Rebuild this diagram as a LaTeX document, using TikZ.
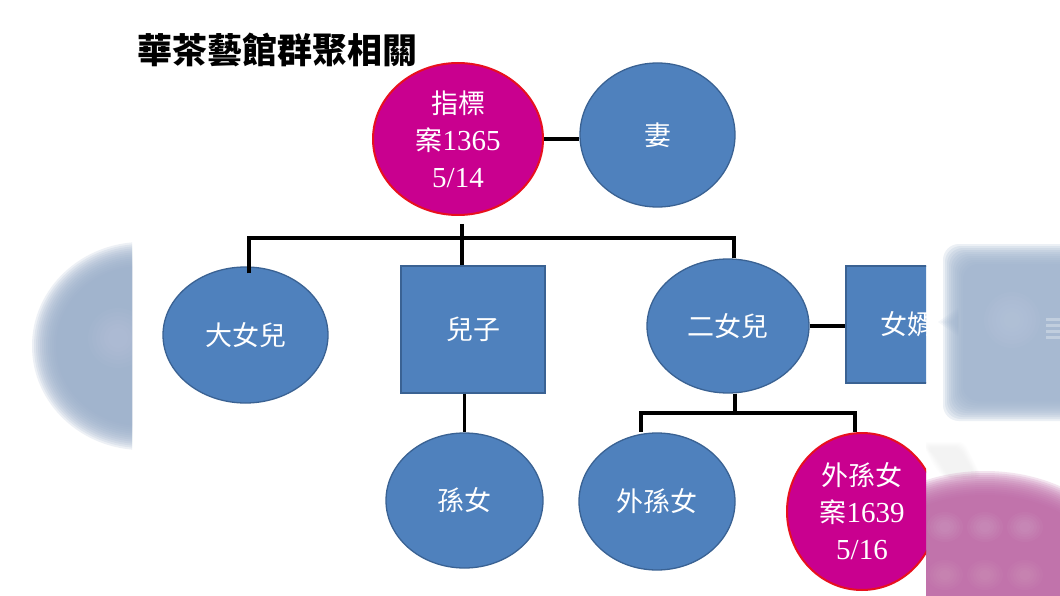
\documentclass[tikz,border=0pt]{standalone}
\usepackage{fontspec}
\setmainfont{Liberation Serif}
\newfontfamily\cjk{Noto Sans CJK TC}
\usetikzlibrary{shapes.geometric}
\definecolor{nodeblue}{HTML}{4F81BD}
\definecolor{nodeblueedge}{HTML}{3A6293}
\definecolor{nodemag}{HTML}{C9008F}
\definecolor{nodered}{HTML}{E8101E}
\definecolor{blurblue}{HTML}{9CB0CB}
\definecolor{blurblue2}{HTML}{A0B4CE}
\definecolor{blurmag}{HTML}{BE6AA7}
\tikzset{
  person/.style={ellipse, inner sep=0pt, fill=nodeblue, draw=nodeblueedge, line width=1.3pt, text=white, font=\cjk\fontsize{27}{36}\selectfont, align=center},
  male/.style={rectangle, inner sep=0pt, fill=nodeblue, draw=nodeblueedge, line width=1.3pt, text=white, font=\cjk\fontsize{27}{36}\selectfont, align=center},
  casenode/.style={ellipse, inner sep=0pt, fill=nodemag, draw=nodered, line width=2pt, text=white, font=\fontsize{29}{37}\selectfont, align=center},
  link/.style={line width=3.6pt, black},
  titletext/.style={font=\cjk\bfseries\fontsize{35}{40}\selectfont, anchor=west, inner sep=0pt}
}
\begin{document}
\begin{tikzpicture}[x=1pt,y=-1pt]
\useasboundingbox (0,0) rectangle (1060,596);
\fill[white] (0,0) rectangle (1060,596);

% ---------- blurred background pieces ----------
\begin{scope}
\clip (0,0) rectangle (132,596);
\foreach \k in {0,...,12}
  \fill[blurblue, opacity=0.18] (142,346) ellipse [x radius={86pt+2pt*\k}, y radius={80pt+2pt*\k}];
\foreach \k in {0,...,5}
  \fill[white, opacity=0.025] (118,338) ellipse [x radius={10pt+4pt*\k}, y radius={10pt+4pt*\k}];
\end{scope}

\begin{scope}
\clip (926,0) rectangle (1060,596);
% light blue square
\foreach \k in {0,...,10}
  \fill[blurblue2, opacity=0.2, rounded corners=16pt] ({963-2*\k},{264-2*\k}) rectangle (1120,{401+2*\k});
\foreach \k in {0,...,4}
  \fill[blurblue2, opacity=0.1] ({950-3*\k},322) -- (958,{316-2*\k}) -- (958,{328+2*\k}) -- cycle;
\foreach \k in {0,...,5}
  \fill[white, opacity=0.025] (1012,320) ellipse [x radius={8pt+4pt*\k}, y radius={8pt+4pt*\k}];
\foreach \y in {318,324,330,336}
  \fill[white, opacity=0.3] (1046,\y) rectangle (1060,{\y+2.5});
% grey streak
\foreach \k in {0,...,6}
  \fill[gray!15, opacity=0.1, rounded corners=6pt] ({928-\k},{448-\k}) -- ({958+\k},{448-\k}) -- ({976+\k},{478}) -- ({950-\k},478) -- ({940-\k},{460+\k}) -- cycle;
% magenta blob
\foreach \k in {0,...,12}
  \fill[blurmag, opacity=0.18] (985,588) ellipse [x radius={128pt+2pt*\k}, y radius={93pt+2pt*\k}];
\foreach \x in {945,985,1025}
  \foreach \k in {0,...,4}
    \fill[white, opacity=0.03] (\x,527) ellipse [x radius={6pt+3pt*\k}, y radius={5pt+2.5pt*\k}];
\foreach \x in {945,985,1025}
  \foreach \k in {0,...,4}
    \fill[white, opacity=0.025] (\x,575) ellipse [x radius={6pt+3pt*\k}, y radius={5pt+2.5pt*\k}];
\end{scope}

% ---------- title ----------
\node[titletext] (title) at (137,50) {華茶藝館群聚相關};

% ---------- diagram ----------
\begin{scope}
\clip (132,0) rectangle (926,596);

\node[casenode, minimum width=170pt, minimum height=152pt] (zb) at (458,139)
  {{\cjk\fontsize{27}{37}\selectfont 指標}\\{\cjk\fontsize{27}{37}\selectfont 案}1365\\5/14};
\node[person, minimum width=155pt, minimum height=144pt] (wife) at (657.5,135) {妻};

\node[person, minimum width=165pt, minimum height=136pt] (dnv) at (245.5,335) {大女兒};
\node[male, minimum width=144pt, minimum height=127pt] (son) at (473,329.5) {兒子};
\node[person, minimum width=162pt, minimum height=134pt] (env) at (728,326) {二女兒};
\node[male, minimum width=122pt, minimum height=117pt] (sil) at (907,324.5) {女婿};

\node[person, minimum width=157pt, minimum height=135pt] (gd) at (464.5,500.5) {孫女};
\node[person, minimum width=156pt, minimum height=137pt] (wsn) at (657,501.5) {外孫女};
\node[casenode, minimum width=150pt, minimum height=157pt] (wsn2) at (862,511.5)
  {{\cjk\fontsize{27}{37}\selectfont 外孫女}\\{\cjk\fontsize{27}{37}\selectfont 案}1639\\5/16};

% bus coordinates
\coordinate (busA) at (249,238);
\coordinate (busB) at (462,238);
\coordinate (busC) at (734,238);
\coordinate (busD) at (641,413);
\coordinate (busE) at (735,413);
\coordinate (busF) at (855,413);

% connectors
\draw[link] (zb.east) -- (zb.east -| wife.west);
\draw[link] ([yshift=-8pt]zb.south -| busB) -- (busB);
\draw[link, line cap=rect] (busA) -- (busC);
\draw[link] ([yshift=-7pt]busA |- dnv.north) -- (busA);
\draw[link] (busB) -- (busB |- son.north);
\draw[link] (busC) -- (busC |- env.north);
\draw[link] (env.east) -- (env.east -| sil.west);
\draw[link] (gd.north |- son.south) -- (gd.north);
\draw[link] (busE |- env.south) -- (busE);
\draw[link, line cap=rect] (busD) -- (busF);
\draw[link] (busD) -- (busD |- wsn.north);
\draw[link] (busF) -- (busF |- wsn2.north);
\end{scope}
\end{tikzpicture}
\end{document}
